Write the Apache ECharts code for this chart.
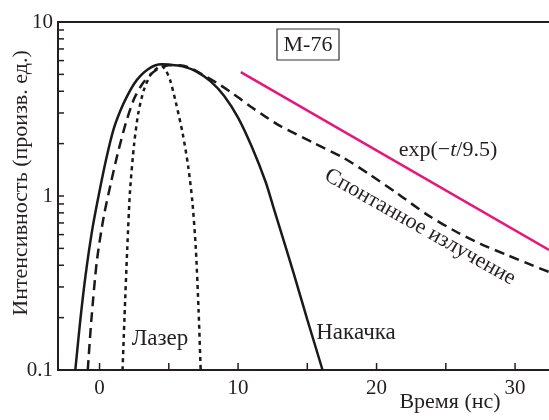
<!DOCTYPE html>
<html><head><meta charset="utf-8">
<script src="https://cdn.jsdelivr.net/npm/echarts@6/dist/echarts.min.js"></script>
<style>html,body{margin:0;padding:0;background:#fff}#c{width:549px;height:420px}</style>
</head><body><div id="c"></div>
<script>
// ---- data ----
const pumpT = [-1.75,-1.4,-1.0,-0.5,0,0.5,1.0,1.5,2.0,2.5,3.0,3.5,4.0,4.5,5.0,6.0,7.0,8.0,9.0,10.0,11.0,12.0,12.5,13.0,14.0,15.0,16.1];
const pumpI = [0.1,0.19,0.355,0.66,1.07,1.66,2.40,3.09,3.76,4.42,4.95,5.35,5.62,5.71,5.69,5.56,5.19,4.57,3.76,2.82,1.91,1.20,0.89,0.66,0.363,0.195,0.1];
const laserT = [1.66,1.8,2.0,2.2,2.5,2.8,3.2,3.7,4.2,4.5,4.8,5.1,5.5,6.0,6.4,6.7,6.95,7.15,7.3];
const laserI = [0.1,0.2,0.5,1.07,2.0,3.0,4.07,5.0,5.47,5.56,5.25,4.62,3.47,2.29,1.48,0.93,0.50,0.22,0.1];
const spontT = [-0.85,-0.6,-0.2,0.3,0.8,1.3,1.9,2.5,3.1,3.7,4.3,5.0,5.8,6.6,7.4,8.5,9.6,10.9,12.0,13.1,15.45,17.6,19.5,21.5,23.7,25.85,27.5,29.45,31.3,32.45];
const spontI = [0.1,0.19,0.42,0.76,1.17,1.74,2.63,3.63,4.42,5.01,5.43,5.65,5.65,5.43,5.01,4.45,3.89,3.27,2.85,2.51,2.02,1.66,1.33,1.035,0.776,0.617,0.531,0.457,0.398,0.366];
const expT = [10.2, 32.45];
const expI = [5.15, 0.49];
const xLabelVals = [0, 10, 20, 30];
const xTickVals = [0, 5, 10, 15, 20, 25, 30];
const yLabelVals = [0.1, 1, 10];
const yLabelText = ['0.1', '1', '10'];
const yTickVals = [0.2,0.3,0.4,0.5,0.6,0.7,0.8,0.9,1,2,3,4,5,6,7,8,9];
const xMin = -3, xMax = 32.45;

const zip = (a, b) => a.map((v, i) => [v, b[i]]);
const FONT = 'Liberation Serif';
const TXT = '#231f20';

const chart = echarts.init(document.getElementById('c'), null, {renderer: 'canvas'});
const option = {
  animation: false,
  backgroundColor: '#fff',
  grid: {left: 58, top: 22, right: 0, bottom: 50, outerBoundsMode: 'none'},
  xAxis: [{
    type: 'value', min: xMin, max: xMax,
    axisLine: {show: true, onZero: false, lineStyle: {color: TXT, width: 2}},
    axisTick: {show: false},
    splitLine: {show: false},
    axisLabel: {customValues: xLabelVals, margin: 8, color: TXT, fontFamily: FONT, fontSize: 21}
  }, {
    type: 'value', min: xMin, max: xMax, position: 'top',
    axisLine: {show: true, onZero: false, lineStyle: {color: TXT, width: 2}},
    axisTick: {show: false}, axisLabel: {show: false}, splitLine: {show: false}
  }],
  yAxis: {
    type: 'log', logBase: 10, min: 0.1, max: 10,
    axisLine: {show: true, onZero: false, lineStyle: {color: TXT, width: 2}},
    axisTick: {show: false}, splitLine: {show: false}, minorTick: {show: false},
    axisLabel: {
      margin: 5, color: TXT, fontFamily: FONT, fontSize: 21,
      formatter: v => { const i = yLabelVals.findIndex(u => Math.abs(u - v) < 1e-9); return i >= 0 ? yLabelText[i] : ''; }
    }
  },
  series: [
    {type: 'line', data: zip(pumpT, pumpI), showSymbol: false, smooth: 0.25,
      lineStyle: {color: '#1a1a1a', width: 2.5}},
    {type: 'line', data: zip(laserT, laserI), showSymbol: false, smooth: 0.25,
      lineStyle: {color: '#1a1a1a', width: 2.5, type: [4, 4]}},
    {type: 'line', data: zip(spontT, spontI), showSymbol: false, smooth: 0.25,
      lineStyle: {color: '#1a1a1a', width: 2.5, type: [10, 6]}},
    {type: 'line', data: zip(expT, expI), showSymbol: false,
      lineStyle: {color: '#e5177b', width: 2.5}}
  ]
};
chart.setOption(option);

const P = (x, y) => chart.convertToPixel({gridIndex: 0}, [x, y]);
const g = [];
xTickVals.forEach(v => {
  const p = P(v, 0.1);
  g.push({type: 'line', shape: {x1: p[0], y1: p[1], x2: p[0], y2: p[1] - 7}, style: {stroke: TXT, lineWidth: 1.5}, z: 10});
});
yTickVals.forEach(v => {
  const p = P(xMin, v);
  g.push({type: 'line', shape: {x1: p[0], y1: p[1], x2: p[0] + 6, y2: p[1]}, style: {stroke: TXT, lineWidth: 1.5}, z: 10});
});
const F = s => s + 'px "Liberation Serif"';
g.push({type: 'rect', shape: {x: 277, y: 29, width: 62, height: 31}, style: {fill: '#fff', stroke: '#333', lineWidth: 1.2}, z: 20});
g.push({type: 'text', x: 308, y: 45, style: {text: 'M-76', font: F(22), fill: TXT, align: 'center', verticalAlign: 'middle'}, z: 21});
g.push({type: 'text', x: 160, y: 339, style: {text: 'Лазер', font: F(23), fill: TXT, align: 'center', verticalAlign: 'middle'}, z: 21});
g.push({type: 'text', x: 356, y: 333, style: {text: 'Накачка', font: F(23), fill: TXT, align: 'center', verticalAlign: 'middle'}, z: 21});
g.push({type: 'text', x: 448, y: 150, style: {
  text: '{a|exp(−}{b|t}{a|/9.5)}', align: 'center', verticalAlign: 'middle',
  rich: {a: {fontFamily: FONT, fontSize: 22, fill: TXT, color: TXT}, b: {fontFamily: FONT, fontSize: 22, fontStyle: 'italic', fill: TXT, color: TXT}}
}, z: 21});
g.push({type: 'text', x: 420, y: 227, rotation: -29.5 * Math.PI / 180, style: {text: 'Спонтанное излучение', font: F(22), fill: TXT, align: 'center', verticalAlign: 'middle'}, z: 21});
g.push({type: 'text', x: 450, y: 402, style: {text: 'Время (нс)', font: F(22), fill: TXT, align: 'center', verticalAlign: 'middle'}, z: 21});
g.push({type: 'text', x: 21, y: 183, rotation: Math.PI / 2, style: {text: 'Интенсивность (произв. ед.)', font: F(22), fill: TXT, align: 'center', verticalAlign: 'middle'}, z: 21});
chart.setOption({graphic: {elements: g}});
</script></body></html>
